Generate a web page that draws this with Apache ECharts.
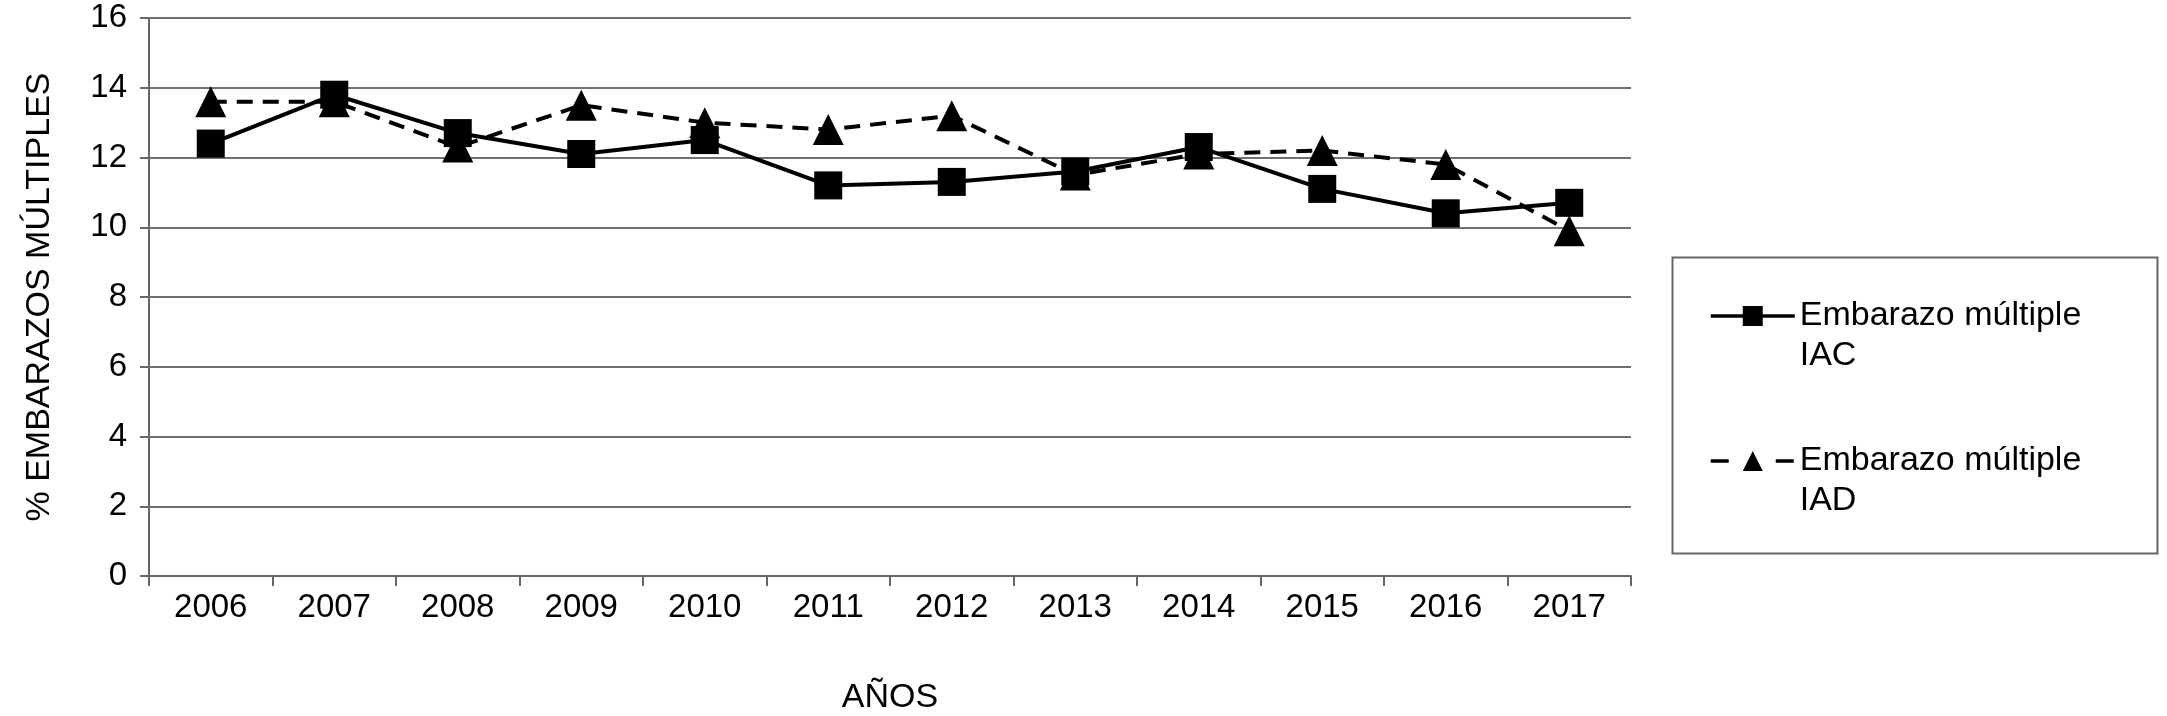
<!DOCTYPE html>
<html>
<head>
<meta charset="utf-8">
<script src="https://cdn.jsdelivr.net/npm/echarts@6/dist/echarts.min.js"></script>
<style>
  html, body { margin: 0; padding: 0; background: #fff; }
  #chart { width: 2167px; height: 716px; }
</style>
</head>
<body>
<div id="chart"></div>
<script>
const years = ['2006','2007','2008','2009','2010','2011','2012','2013','2014','2015','2016','2017'];
const iac = [12.4, 13.8, 12.7, 12.1, 12.5, 11.2, 11.3, 11.6, 12.3, 11.1, 10.4, 10.7];
const iad = [13.6, 13.6, 12.3, 13.5, 13.0, 12.8, 13.2, 11.5, 12.1, 12.2, 11.8, 9.9];
const seriesNames = ['Embarazo múltiple\nIAC', 'Embarazo múltiple\nIAD'];
const yTicks = [0, 2, 4, 6, 8, 10, 12, 14, 16];

const FONT = 'Liberation Sans, Arial, Helvetica, sans-serif';
const chart = echarts.init(document.getElementById('chart'), null, { renderer: 'canvas' });

chart.setOption({
  backgroundColor: '#ffffff',
  animation: false,
  textStyle: { fontFamily: FONT, color: '#000' },
  grid: { left: 149, right: 536, top: 18, bottom: 140, containLabel: false, outerBoundsMode: 'none' },
  graphic: [{
    type: 'rect',
    left: 1670, top: 255,
    shape: { width: 485, height: 296 },
    style: { fill: 'none', stroke: '#666', lineWidth: 2 },
    z: 1
  }],
  legend: {
    orient: 'vertical',
    left: 1704, top: 251,
    itemWidth: 84, itemHeight: 25,
    itemGap: 25,
    formatter: function (name) { return ' \n' + name; },
    textStyle: { fontFamily: FONT, fontSize: 34, color: '#000', lineHeight: 40 },
    lineStyle: { width: 3.5 },
    data: [
      { name: seriesNames[0] },
      { name: seriesNames[1], lineStyle: { type: [18, 47], width: 3.5 } }
    ],
    selectedMode: false
  },
  xAxis: {
    type: 'category',
    data: years,
    boundaryGap: true,
    name: 'AÑOS',
    nameLocation: 'middle',
    nameGap: 105,
    nameTextStyle: { fontFamily: FONT, fontSize: 34, color: '#000' },
    axisLine: { lineStyle: { color: '#666', width: 2 } },
    axisTick: { show: true, alignWithLabel: false, length: 10, lineStyle: { color: '#666', width: 2 } },
    axisLabel: { fontFamily: FONT, fontSize: 33, color: '#000', margin: 15 },
    splitLine: { show: false }
  },
  yAxis: {
    type: 'value',
    min: yTicks[0], max: yTicks[yTicks.length - 1], interval: 2,
    name: '% EMBARAZOS MÚLTIPLES',
    nameLocation: 'middle',
    nameGap: 92,
    nameRotate: 90,
    nameTextStyle: { fontFamily: FONT, fontSize: 34, color: '#000' },
    axisLine: { show: true, lineStyle: { color: '#666', width: 2 } },
    axisTick: { show: true, length: 9, inside: false, lineStyle: { color: '#666', width: 2 } },
    axisLabel: { fontFamily: FONT, fontSize: 33, color: '#000', margin: 22 },
    splitLine: { show: true, lineStyle: { color: '#707070', width: 2 } }
  },
  series: [
    {
      name: seriesNames[0],
      type: 'line',
      data: iac,
      symbol: 'rect',
      symbolSize: 28,
      lineStyle: { color: '#000', width: 4, type: 'solid' },
      itemStyle: { color: '#000' },
      z: 3
    },
    {
      name: seriesNames[1],
      type: 'line',
      data: iad,
      symbol: 'triangle',
      symbolSize: [31, 31],
      lineStyle: { color: '#000', width: 4, type: [16, 10] },
      itemStyle: { color: '#000' },
      z: 2
    }
  ]
});
</script>
</body>
</html>
